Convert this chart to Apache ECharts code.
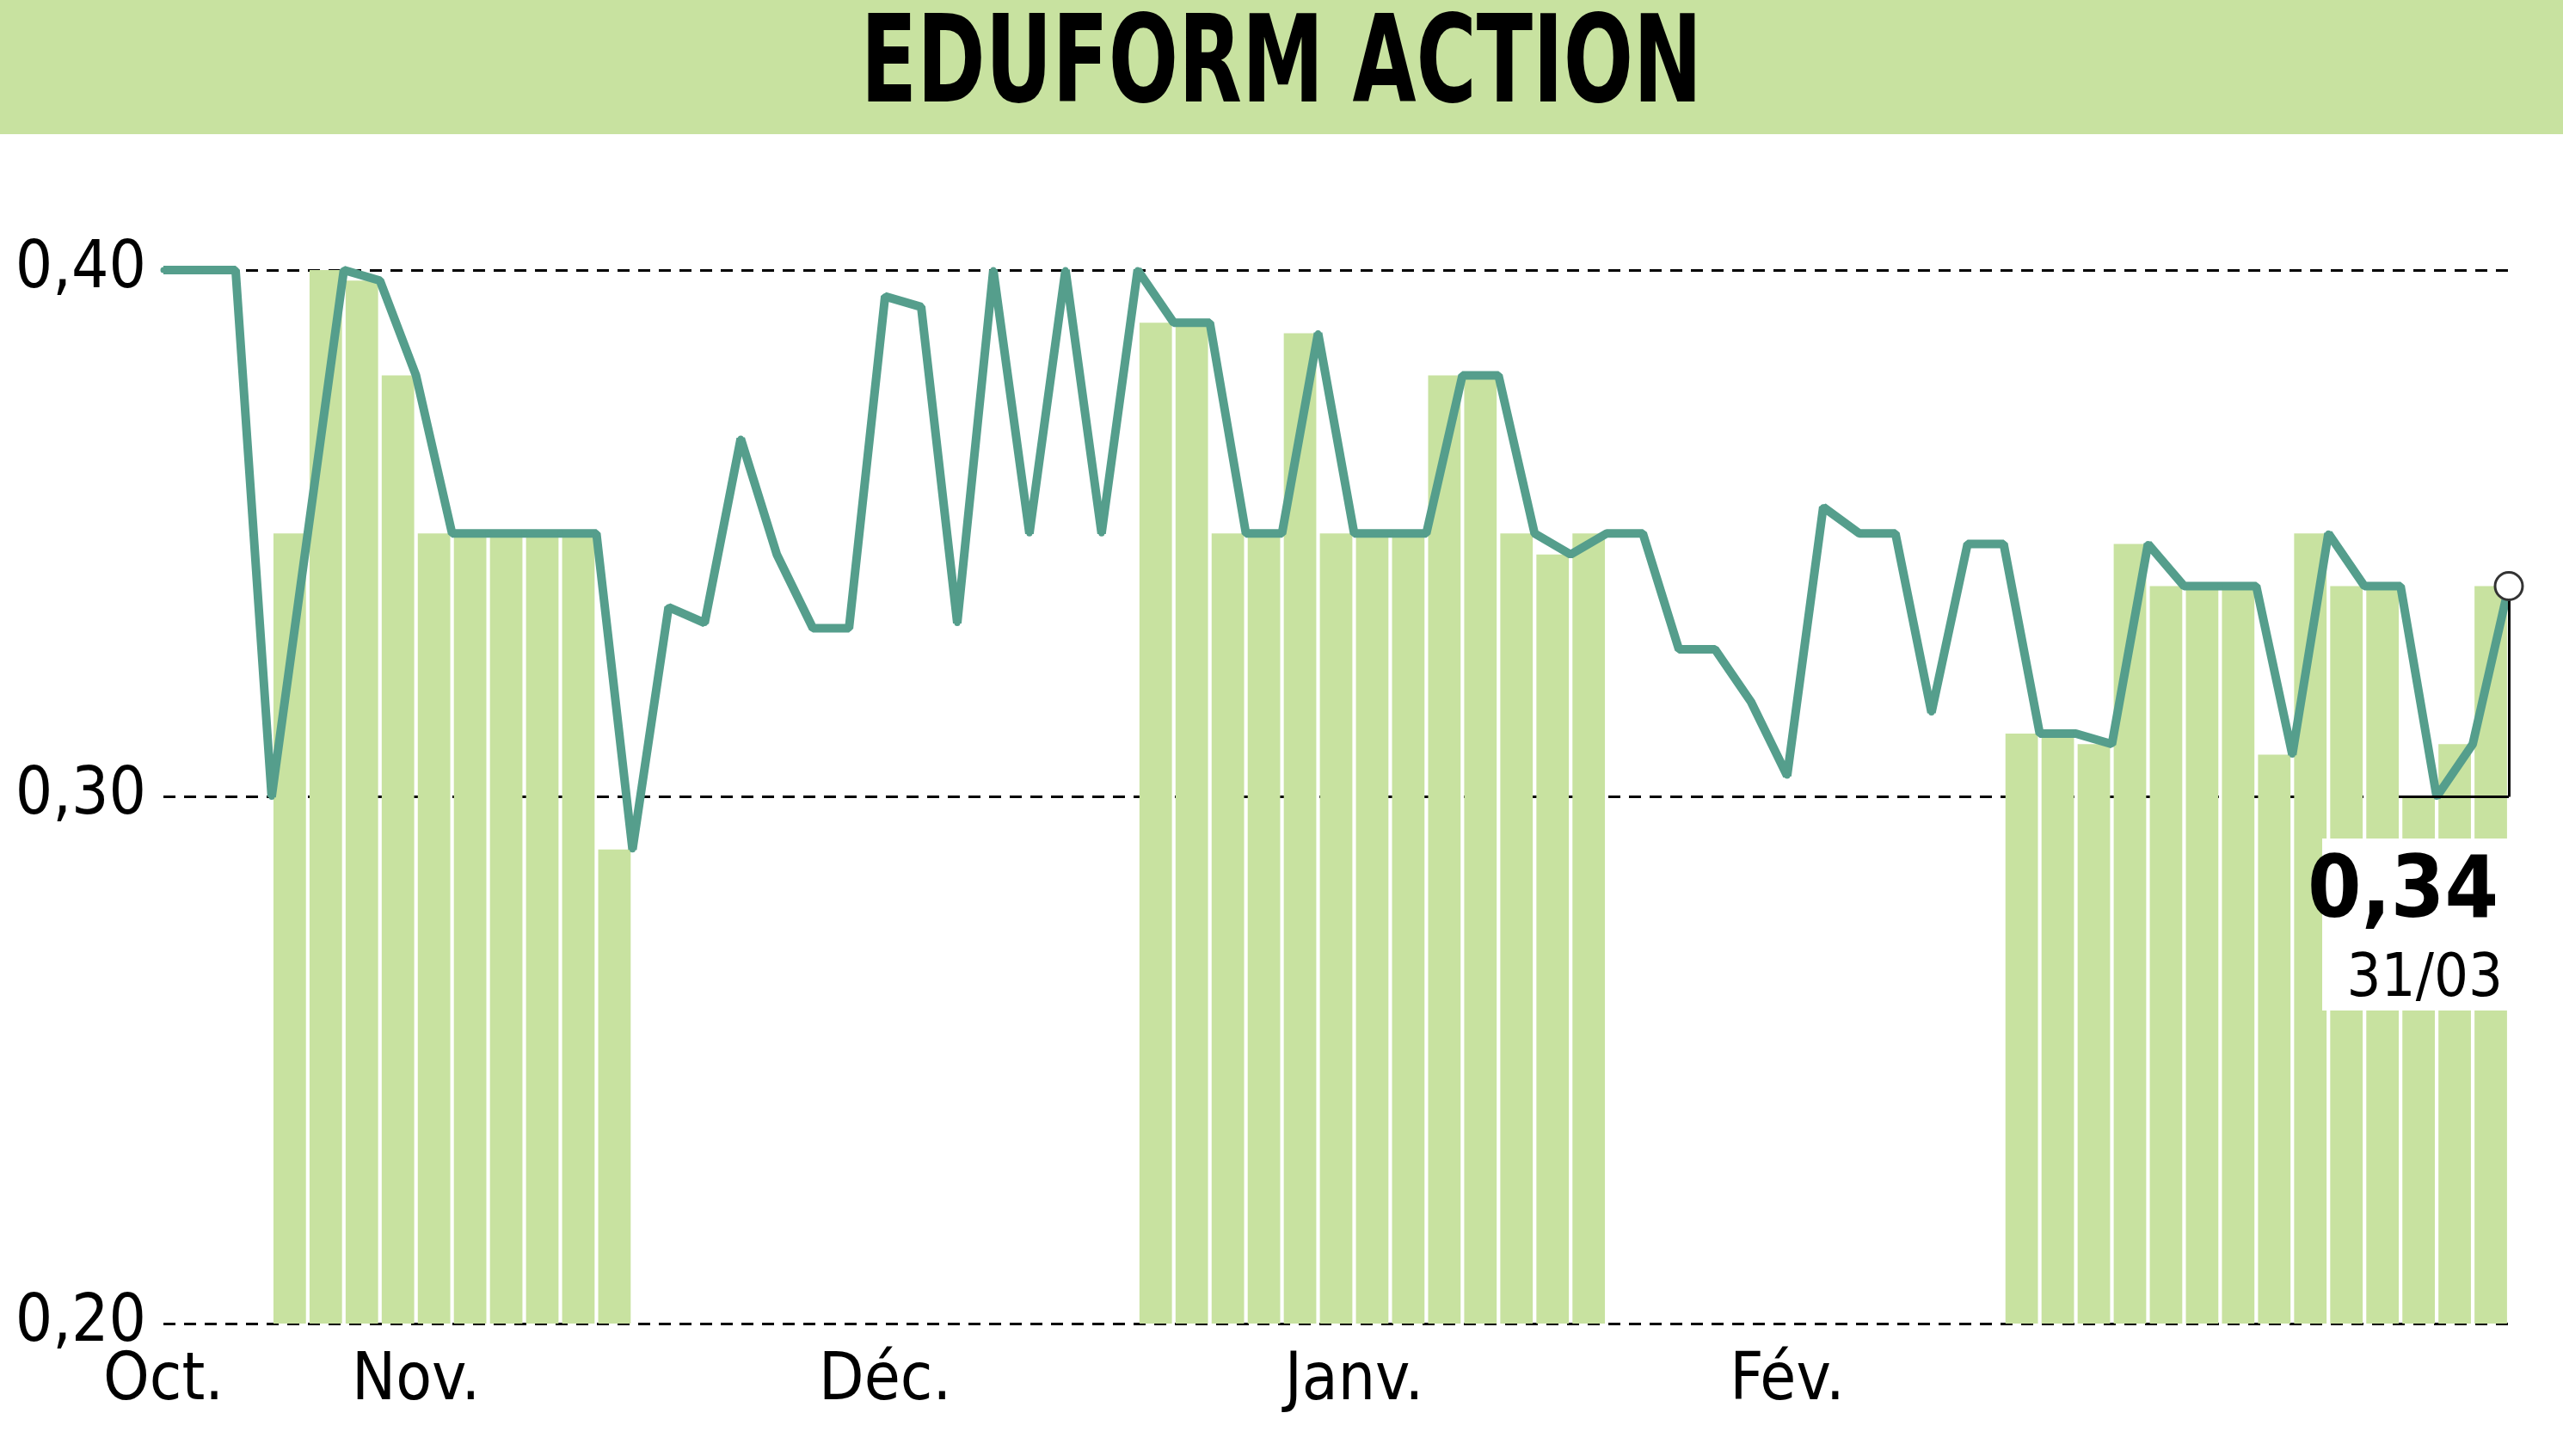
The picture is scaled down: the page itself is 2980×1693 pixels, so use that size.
<!DOCTYPE html>
<html><head><meta charset="utf-8">
<script src="https://cdn.jsdelivr.net/npm/echarts@6/dist/echarts.min.js"></script>
<style>html,body{margin:0;padding:0;background:#fff}#c{width:2980px;height:1693px}</style>
</head><body><div id="c"></div>
<script>
const values=[0.40,0.40,0.40,0.30,0.35,0.40,0.398,0.38,0.35,0.35,0.35,0.35,0.35,0.29,0.336,0.333,0.368,0.346,0.332,0.332,0.395,0.393,0.333,0.40,0.35,0.40,0.35,0.40,0.39,0.39,0.35,0.35,0.388,0.35,0.35,0.35,0.38,0.38,0.35,0.346,0.35,0.35,0.328,0.328,0.318,0.304,0.355,0.35,0.35,0.316,0.348,0.348,0.312,0.312,0.31,0.348,0.34,0.34,0.34,0.308,0.35,0.34,0.34,0.30,0.31,0.34];
const monthLabels={0:'Oct.',7:'Nov.',20:'Déc.',33:'Janv.',45:'Fév.'};
const shadedIntervals=[[3,12],[27,39],[51,64]];
const cats=values.map((v,i)=>i);
const intervals=values.slice(1).map((v,j)=>j);
const barData=values.slice(1).map((v,j)=>shadedIntervals.some(r=>j>=r[0]&&j<=r[1])?v:null);
const F='"Liberation Sans Narrow","DejaVu Sans Condensed",sans-serif';
const ch=echarts.init(document.getElementById('c'));
const last=values.length-1;
ch.setOption({
  animation:false,
  graphic:[
    {type:'rect',z:-10,shape:{x:0,y:0,width:2980,height:156},style:{fill:'#c8e2a0'}},
    {type:'text',z:100,x:1490,y:82,scaleX:0.76,originX:0,style:{text:'EDUFORM ACTION',font:'bold 140px '+F,fill:'#000',align:'center',verticalAlign:'middle'}},
    {type:'rect',z:100,shape:{x:2700,y:975,width:215,height:200},style:{fill:'#fff'}},
    {type:'text',z:101,x:2905,y:1040,style:{text:'0,34',font:'bold 100px '+F,fill:'#000',align:'right',verticalAlign:'middle'}},
    {type:'text',z:101,x:2910,y:1140,style:{text:'31/03',font:'70px '+F,fill:'#000',align:'right',verticalAlign:'middle'}}
  ],
  grid:{left:190,right:63,top:314,bottom:154},
  xAxis:[{type:'category',data:cats,boundaryGap:false,
    axisLine:{show:false},axisTick:{show:false},
    axisLabel:{interval:0,margin:30,fontFamily:F,fontSize:76,color:'#000',
      formatter:(v,i)=>monthLabels[i]||''}},
    {type:'category',data:intervals,boundaryGap:true,show:false}],
  yAxis:{type:'value',min:0.2,max:0.4,interval:0.1,
    axisLabel:{fontFamily:F,fontSize:76,color:'#000',margin:20,formatter:v=>v.toFixed(2).replace('.',',')},
    splitLine:{lineStyle:{type:[14,10],color:'#000',width:3}},axisLine:{show:false},axisTick:{show:false}},
  series:[
    {type:'bar',xAxisIndex:1,data:barData,barCategoryGap:'10%',itemStyle:{color:'#c8e2a0'},z:1},
    {type:'line',clip:false,showSymbol:true,showAllSymbol:true,data:values,
      symbol:'circle',symbolSize:7,itemStyle:{color:'#559e8c'},
      lineStyle:{color:'#559e8c',width:10},z:3,
      markPoint:{silent:true,symbol:'circle',symbolSize:32,label:{show:false},
        itemStyle:{color:'#fff',borderColor:'#333',borderWidth:3},
        data:[{coord:[last,values[last]]}]},
      markLine:{silent:true,symbol:'none',label:{show:false},lineStyle:{color:'#000',width:3,type:'solid'},
        data:[[{coord:[last,0.30]},{coord:[last,0.34]}],[{coord:[last-3,0.30]},{coord:[last,0.30]}]]}}
  ]
});
</script></body></html>
